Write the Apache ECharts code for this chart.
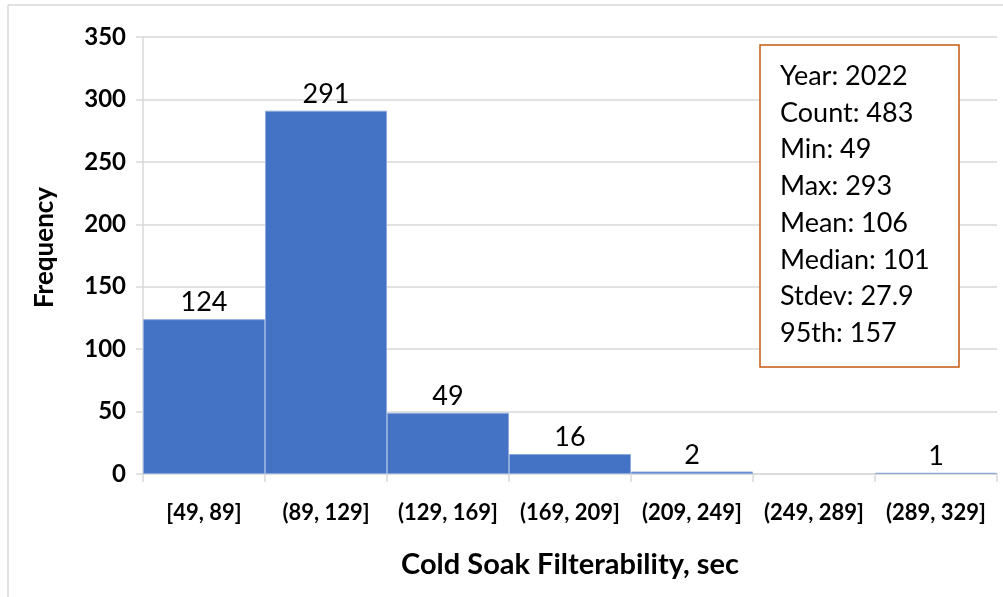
<!DOCTYPE html>
<html>
<head>
  <meta charset="utf-8">
  <title>Cold Soak Filterability</title>
  <script src="https://cdn.jsdelivr.net/npm/echarts@6/dist/echarts.min.js"></script>
  <style>
    html, body { margin: 0; padding: 0; background: #fff; }
    #chart { width: 1003px; height: 597px; }
  </style>
</head>
<body>
<div id="chart"></div>
<script>
  // bins and counts
  const bins = ['[49, 89]', '(89, 129]', '(129, 169]', '(169, 209]', '(209, 249]', '(249, 289]', '(289, 329]'];
  const counts = [124, 291, 49, 16, 2, 0, 1];
  const yTicks = { min: 0, max: 350, step: 50 };

  const statNames = ['Year', 'Count', 'Min', 'Max', 'Mean', 'Median', 'Stdev', '95th'];
  const statValues = ['2022', '483', '49', '293', '106', '101', '27.9', '157'];

  const font = 'Lato, "Open Sans", sans-serif';
  const chart = echarts.init(document.getElementById('chart'));

  // empty bins get no border and no label
  const barData = counts.map(v => v === 0
    ? { value: v, itemStyle: { borderWidth: 0 }, label: { show: false } }
    : v);

  chart.setOption({
    animation: false,
    textStyle: { fontFamily: font },
    grid: { left: 143, right: 6, top: 37, bottom: 123 },
    xAxis: {
      type: 'category',
      data: bins,
      name: 'Cold Soak Filterability, sec',
      nameLocation: 'middle',
      nameGap: 76,
      nameTextStyle: { fontSize: 29, fontWeight: 'bold', color: '#000', fontFamily: font },
      axisLine: { lineStyle: { color: '#d9d9d9', width: 1.5 } },
      axisTick: { show: true, length: 8, lineStyle: { color: '#d9d9d9', width: 1.5 } },
      axisLabel: { fontSize: 22, fontWeight: 'bold', color: '#000', margin: 28, interval: 0, fontFamily: font }
    },
    yAxis: {
      type: 'value',
      min: yTicks.min,
      max: yTicks.max,
      interval: yTicks.step,
      name: 'Frequency',
      nameLocation: 'middle',
      nameGap: 85,
      nameTextStyle: { fontSize: 26, fontWeight: 'bold', color: '#000', fontFamily: font, padding: [0, 0, 0, 16] },
      axisLine: { show: true, lineStyle: { color: '#d9d9d9', width: 1.5 } },
      axisTick: { show: true, length: 7, lineStyle: { color: '#d9d9d9', width: 1.5 } },
      splitLine: { show: true, lineStyle: { color: '#d9d9d9', width: 1.5 } },
      axisLabel: { fontSize: 24, fontWeight: 'bold', color: '#000', margin: 17, fontFamily: font }
    },
    series: [{
      type: 'bar',
      data: barData,
      barCategoryGap: '0%',
      itemStyle: { color: '#4472C4', borderColor: '#8faadc', borderWidth: 1 },
      label: {
        show: true,
        position: 'top',
        distance: 3,
        fontSize: 27,
        color: '#000',
        fontFamily: font
      }
    }],
    graphic: [
      { type: 'line', shape: { x1: 8, y1: 5, x2: 1003, y2: 5 }, style: { stroke: '#d9d9d9', lineWidth: 1.5 } },
      { type: 'line', shape: { x1: 8, y1: 5, x2: 8, y2: 597 }, style: { stroke: '#d9d9d9', lineWidth: 1.5 } },
      {
        type: 'rect',
        shape: { x: 760, y: 45, width: 199, height: 322 },
        style: { fill: '#fff', stroke: '#C55A11', lineWidth: 1.5 },
        z: 10
      },
      {
        type: 'text',
        left: 780,
        top: 58,
        z: 11,
        style: {
          text: statNames.map((n, i) => n + ': ' + statValues[i]).join('\n'),
          fontSize: 27,
          lineHeight: 36.7,
          fill: '#000',
          fontFamily: font
        }
      }
    ]
  });
</script>
</body>
</html>
